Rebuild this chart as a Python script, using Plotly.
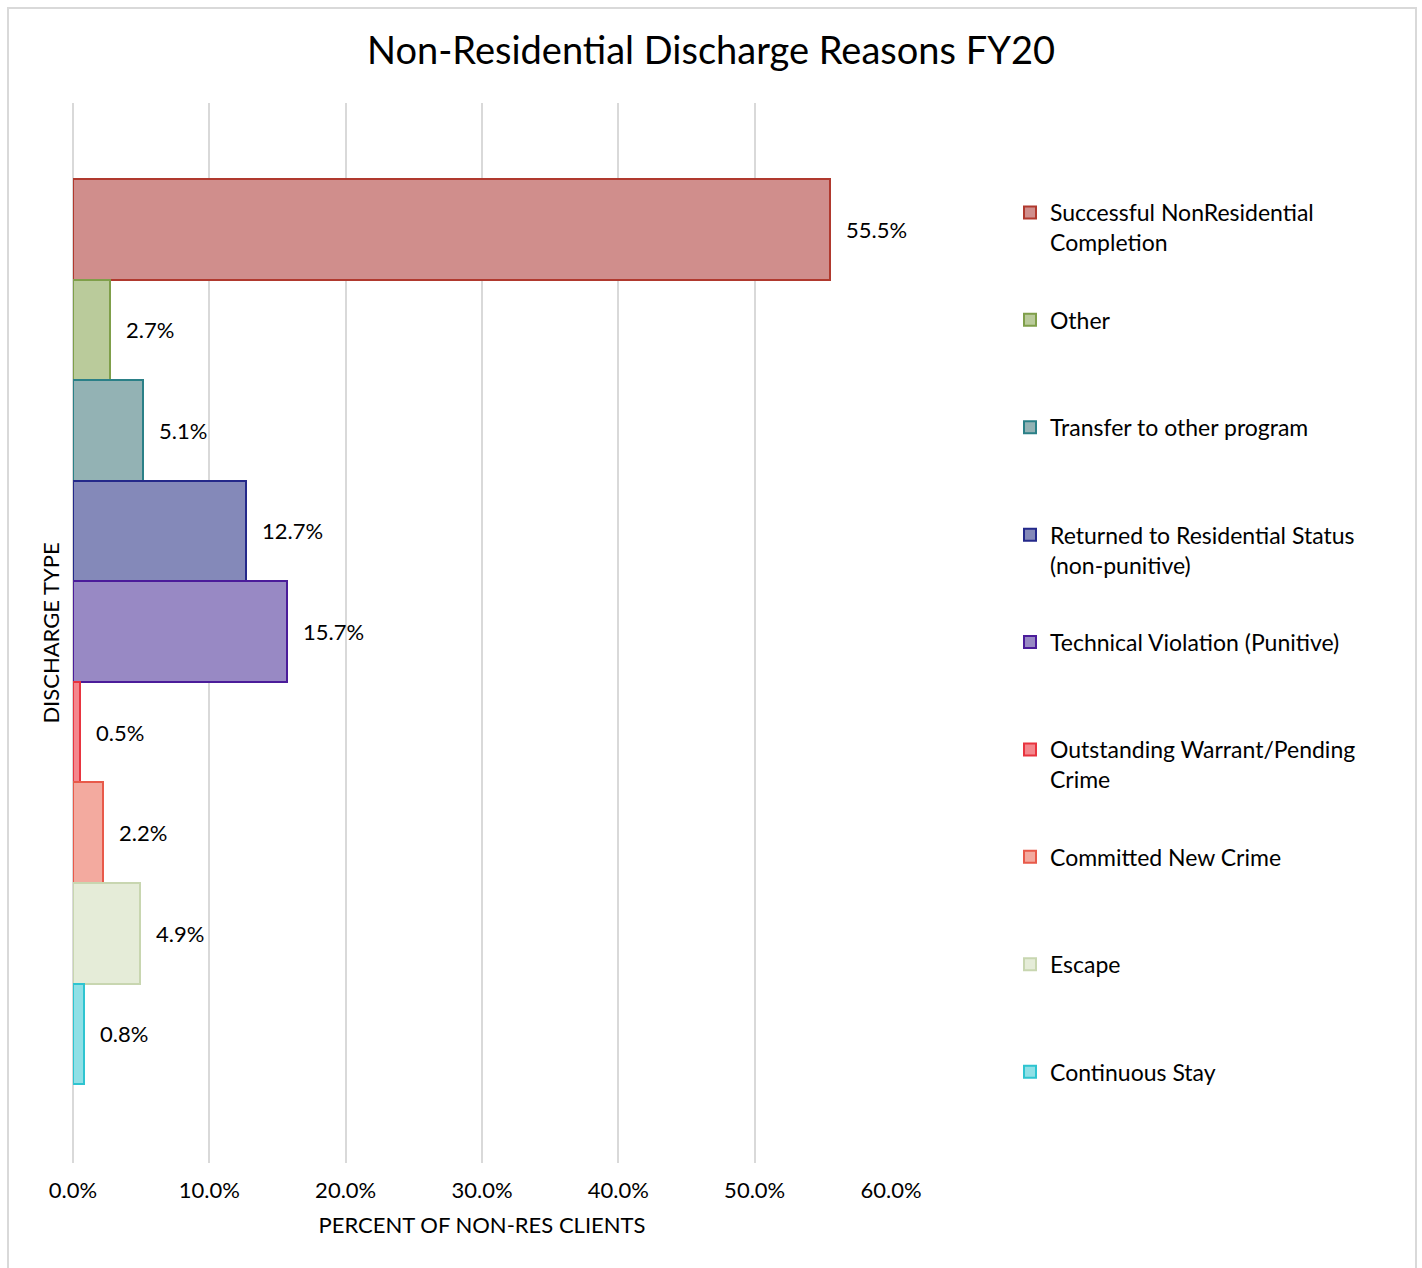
import plotly.graph_objects as go

categories = [
    "Successful NonResidential Completion",
    "Other",
    "Transfer to other program",
    "Returned to Residential Status (non-punitive)",
    "Technical Violation (Punitive)",
    "Outstanding Warrant/Pending Crime",
    "Committed New Crime",
    "Escape",
    "Continuous Stay",
]
legend_labels = [
    "Successful NonResidential<br>Completion",
    "Other<br> ",
    "Transfer to other program<br> ",
    "Returned to Residential Status<br>(non-punitive)",
    "Technical Violation (Punitive)<br> ",
    "Outstanding Warrant/Pending<br>Crime",
    "Committed New Crime<br> ",
    "Escape<br> ",
    "Continuous Stay<br> ",
]
values = [0.555, 0.027, 0.051, 0.127, 0.157, 0.005, 0.022, 0.049, 0.008]
value_labels = ["55.5%", "2.7%", "5.1%", "12.7%", "15.7%", "0.5%", "2.2%", "4.9%", "0.8%"]
x_ticks = [0, 0.1, 0.2, 0.3, 0.4, 0.5, 0.6]
x_tick_labels = ["0.0%", "10.0%", "20.0%", "30.0%", "40.0%", "50.0%", "60.0%"]

fill_colors = ["#d08e8c", "#bacb9b", "#93b2b4", "#8489b9", "#9889c4",
               "#f4878d", "#f3aa9f", "#e5ecd8", "#8fe0e6"]
line_colors = ["#b0392e", "#7f9f4a", "#2b8087", "#24298a", "#4b1c9a",
               "#e8343f", "#e85a4a", "#c8d6b0", "#2ec4d0"]

FONT = "Lato"

fig = go.Figure()
for i, cat in enumerate(categories):
    fig.add_trace(go.Bar(
        x=[values[i]], y=[cat], orientation="h", name=legend_labels[i],
        legendgroup=f"g{i}",
        marker=dict(color=fill_colors[i], line=dict(color=line_colors[i], width=2)),
        hoverinfo="skip",
    ))
    fig.add_annotation(
        x=values[i], y=cat, text=value_labels[i], showarrow=False,
        xanchor="left", yanchor="middle", xshift=14,
        font=dict(family=FONT, size=22, color="#000000"),
    )

L, R, T, B = 73, 1422 - 891, 103, 1268 - 1163
pw, ph = 1422 - L - R, 1268 - T - B

fig.add_shape(type="rect", xref="paper", yref="paper",
              x0=(8 - L) / pw, x1=(1416 - L) / pw,
              y0=-0.2, y1=(1163 - 8) / ph,
              line=dict(color="#d9d9d9", width=2), fillcolor="rgba(0,0,0,0)",
              layer="below")

fig.update_layout(
    width=1422, height=1268,
    margin=dict(l=L, r=R, t=T, b=B),
    paper_bgcolor="white", plot_bgcolor="white",
    barmode="overlay", bargap=0,
    font=dict(family=FONT, color="#000000"),
    title=dict(text="Non-Residential Discharge Reasons FY20", x=0.5, xref="container",
               y=1 - 51 / 1268, yref="container", xanchor="center", yanchor="middle",
               font=dict(family=FONT, size=38, color="#000000")),
    xaxis=dict(range=[0, 0.6], tickvals=x_ticks, ticktext=x_tick_labels,
               showgrid=True, gridcolor="#d9d9d9", gridwidth=2,
               zeroline=True, zerolinecolor="#d9d9d9", zerolinewidth=2,
               showline=False, ticks="", ticklabelstandoff=12,
               tickfont=dict(family=FONT, size=22, color="#000000"),
               title=dict(text="PERCENT OF NON-RES CLIENTS", standoff=15,
                          font=dict(family=FONT, size=22, color="#000000")),
               automargin=False),
    yaxis=dict(type="category", categoryorder="array", categoryarray=categories,
               range=[8.5 + 0.785, -0.5 - 0.756], showticklabels=False,
               showgrid=False, zeroline=False, showline=False, ticks="",
               title=dict(text="DISCHARGE TYPE", standoff=6,
                          font=dict(family=FONT, size=22, color="#000000")),
               automargin=False),
    legend=dict(x=(1010 - L) / pw, xanchor="left", y=(1163 - 191) / ph, yanchor="top",
                traceorder="grouped", tracegroupgap=44.6, valign="top",
                font=dict(family=FONT, size=23, color="#000000"),
                bgcolor="rgba(0,0,0,0)"),
    showlegend=True,
)

fig.write_html("out.html")
